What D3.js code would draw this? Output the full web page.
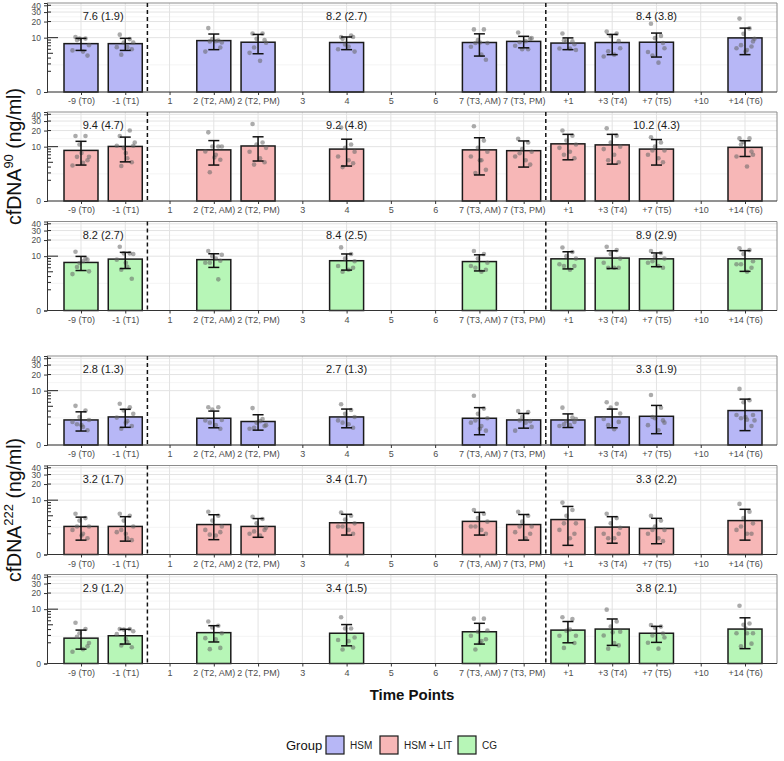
<!DOCTYPE html>
<html>
<head>
<meta charset="utf-8">
<script src="https://cdn.jsdelivr.net/npm/d3@7"></script>
<style>
  body { margin: 0; background: #fff; }
  svg { font-family: "Liberation Sans", Arial, sans-serif; }
</style>
</head>
<body>
<svg width="784" height="761"></svg>
<script>
// time points on the x axis
var timePoints = ["-9 (T0)", "-1 (T1)", "1", "2 (T2, AM)", "2 (T2, PM)", "3", "4", "5", "6",
  "7 (T3, AM)", "7 (T3, PM)", "+1", "+3 (T4)", "+7 (T5)", "+10", "+14 (T6)"];

var groups = ["HSM", "HSM + LIT", "CG"];
var groupFill = ["#b7b7f6", "#f7b7b7", "#b7f6b7"];

var yBreaks = [0, 10, 20, 30, 40];
var logTicks = [2, 3, 4, 5, 6, 7, 8, 9, 10, 20, 30, 40];

// cfDNA90
var hsm90Mean = [7.7, 7.7, null, 8.8, 8.2, null, 8.1, null, null, 8.1, 8.5, 7.9, 8.1, 8.2, null, 9.9];
var hsm90Sd   = [2.0, 2.0, null, 2.9, 3.3, null, 2.2, null, null, 3.7, 2.1, 2.0, 3.4, 4.0, null, 5.2];
var hsm90Pts = [
  [10.3, 9.6, 9.6, 7.2, 5.7, 5.4, 4.5, 9.0],
  [11.4, 9.4, 8.1, 8.1, 6.6, 6.6, 6.0, 4.7],
  [], [15.1, 8.8, 9.4, 8.1, 5.4, 8.6, 6.5, 8.5],
  [12.0, 12.0, 9.5, 8.0, 5.1, 3.5, 9.0, 6.5],
  [], [10.3, 11.0, 7.4, 5.4, 6.0, 6.8, 10.3, 9.5], [], [],
  [14.3, 14.3, 9.0, 7.9, 6.7, 4.7, 3.7, 7.9, 8.1],
  [12.5, 6.0, 6.0, 9.8, 7.0, 8.6, 9.5, 8.2],
  [12.0, 8.5, 8.5, 5.8, 6.2, 6.2, 7.5, 8.8],
  [13.0, 12.0, 10.8, 6.3, 4.3, 4.7, 8.6, 5.5],
  [18.2, 10.8, 9.8, 6.3, 5.3, 3.2, 7.9, 4.5],
  [], [22.7, 14.9, 11.8, 8.5, 6.3, 5.8, 6.8, 7.2, 5.4, 9.5]
];
var lit90Mean = [8.5, 10.1, null, 8.7, 10.3, null, 9.0, null, null, 8.7, 8.4, 11.3, 10.8, 9.0, null, 9.7];
var lit90Sd   = [4.1, 5.0, null, 4.3, 5.0, null, 4.8, null, null, 6.0, 4.4, 5.7, 6.2, 4.6, null, 3.2];
var lit90Pts = [
  [15.8, 15.8, 11.0, 6.4, 4.3, 4.9, 5.5, 6.4, 7.6],
  [15.8, 20.0, 9.4, 10.4, 10.4, 6.0, 5.0, 4.2, 7.6, 12.0],
  [], [18.5, 10.1, 10.1, 10.1, 8.1, 7.0, 5.6, 3.1, 6.2],
  [26.5, 12.0, 11.0, 9.5, 8.0, 6.0, 5.0, 4.5],
  [], [22.7, 11.0, 9.5, 8.0, 6.5, 5.5, 4.8, 4.0], [], [],
  [24.0, 13.0, 9.5, 8.0, 6.5, 5.5, 3.5, 3.0, 5.5],
  [14.0, 12.0, 9.0, 8.0, 6.5, 5.5, 4.5, 7.5],
  [20.0, 16.0, 13.0, 11.0, 9.5, 8.0, 6.0, 7.0],
  [22.0, 16.0, 12.0, 10.0, 9.0, 7.0, 5.0, 5.5],
  [15.0, 12.0, 10.0, 8.5, 7.0, 6.0, 5.0, 8.5],
  [], [14.3, 14.3, 12.3, 7.0, 6.5, 4.1, 8.1, 11.0]
];
var cg90Mean = [7.6, 8.8, null, 8.6, null, null, 8.2, null, null, 7.9, null, 8.9, 9.2, 8.9, null, 8.9];
var cg90Sd   = [2.3, 3.0, null, 2.5, null, null, 2.8, null, null, 2.7, null, 3.2, 3.4, 2.6, null, 3.8];
var cg90Pts = [
  [12.1, 9.0, 7.4, 5.1, 4.5, 8.0, 8.6, 6.2],
  [15.0, 11.3, 11.3, 11.0, 8.6, 6.3, 3.6, 5.5, 7.5],
  [], [12.5, 3.5, 10.0, 10.6, 7.5, 9.0, 8.2, 7.5],
  [], [], [14.6, 11.0, 9.0, 8.0, 6.5, 5.5, 6.0, 5.0], [], [],
  [12.5, 11.0, 9.0, 7.5, 6.5, 5.0, 5.5, 6.0],
  [], [14.5, 12.0, 10.0, 9.0, 7.0, 5.5, 6.5, 6.5],
  [15.0, 13.0, 11.0, 9.0, 7.5, 6.0, 6.0, 6.0],
  [12.5, 11.5, 10.0, 9.0, 7.5, 6.5, 6.0, 8.0],
  [], [14.0, 13.0, 11.0, 8.0, 7.0, 5.0, 6.0, 7.0]
];

// cfDNA222
var hsm222Mean = [2.56, 3.0, null, 2.8, 2.35, null, 3.0, null, null, 2.8, 2.56, 2.56, 3.0, 3.1, null, 4.1];
var hsm222Sd   = [1.3, 1.35, null, 1.2, 1.0, null, 1.4, null, null, 1.9, 1.0, 0.93, 1.4, 2.1, null, 2.8];
var hsm222Pts = [
  [5.1, 4.1, 3.0, 2.56, 2.3, 1.7, 1.34, 2.0, 1.9],
  [5.6, 4.8, 4.1, 3.5, 2.9, 2.4, 1.8, 1.5, 2.2],
  [], [4.8, 4.8, 4.3, 2.56, 2.5, 1.9, 1.5, 2.2],
  [4.6, 2.7, 2.2, 1.9, 1.5, 2.4, 1.8, 1.6],
  [], [5.5, 4.2, 3.5, 3.0, 2.5, 2.0, 1.6, 2.2], [], [],
  [8.0, 4.5, 3.5, 2.8, 2.2, 1.8, 1.3, 2.5, 1.5],
  [4.0, 3.8, 3.0, 1.7, 1.3, 2.2, 2.4, 2.5],
  [4.7, 2.9, 2.4, 2.7, 1.8, 1.9, 2.3, 2.0],
  [6.0, 5.6, 4.7, 3.55, 2.7, 1.45, 2.3, 1.9],
  [8.3, 4.7, 2.8, 2.2, 1.9, 1.34, 2.5, 3.0],
  [], [10.8, 6.6, 6.0, 3.3, 3.3, 2.6, 1.8, 2.8, 3.0, 2.5]
];
var lit222Mean = [3.0, 3.0, null, 3.3, 3.0, null, 3.6, null, null, 3.85, 3.3, 4.2, 2.9, 2.7, null, 4.0];
var lit222Sd   = [1.7, 1.8, null, 1.95, 1.4, null, 1.75, null, null, 2.0, 2.0, 3.4, 1.9, 1.75, null, 2.7];
var lit222Pts = [
  [5.5, 4.5, 4.0, 3.0, 2.5, 2.0, 1.5, 3.0, 1.8],
  [5.5, 5.0, 4.0, 3.0, 2.2, 1.5, 1.3, 2.5, 2.0],
  [], [6.0, 5.0, 4.0, 3.0, 2.5, 1.8, 2.2, 1.9],
  [4.8, 4.3, 3.5, 2.8, 2.0, 1.8, 2.5, 2.3],
  [], [5.8, 5.0, 4.2, 3.5, 3.0, 2.5, 2.0, 3.0], [], [],
  [6.5, 5.5, 4.5, 3.8, 3.0, 2.5, 2.0, 3.0],
  [6.0, 5.0, 3.8, 3.0, 2.2, 1.5, 2.0, 3.0],
  [9.0, 6.5, 5.0, 3.5, 2.5, 1.5, 2.0, 3.5],
  [5.5, 4.5, 3.5, 2.8, 2.0, 1.5, 2.0, 1.5],
  [5.0, 4.0, 3.0, 2.5, 2.0, 1.5, 1.2, 2.5],
  [], [8.5, 6.0, 4.5, 3.5, 2.5, 2.0, 2.0, 3.0]
];
var cg222Mean = [2.6, 2.95, null, 3.45, null, null, 3.35, null, null, 3.6, null, 3.9, 4.1, 3.35, null, 4.1];
var cg222Sd   = [1.3, 1.1, null, 1.35, null, null, 1.7, null, null, 1.75, null, 1.9, 2.4, 1.3, null, 2.75];
var cg222Pts = [
  [5.5, 4.1, 3.35, 1.97, 1.04, 1.3, 1.6, 2.8],
  [4.1, 4.1, 4.0, 3.7, 3.2, 2.1, 1.5, 1.7, 2.5],
  [], [5.8, 4.8, 4.4, 3.35, 2.6, 2.45, 1.43, 1.3],
  [], [], [7.0, 4.2, 4.2, 2.7, 2.35, 2.2, 1.47, 1.27], [], [],
  [6.6, 6.6, 3.6, 3.8, 2.95, 2.2, 2.45, 1.27, 2.0],
  [], [7.0, 6.5, 3.8, 2.95, 2.95, 4.0, 1.97, 1.43],
  [9.8, 5.8, 4.6, 3.6, 3.0, 1.97, 1.7, 1.35, 3.5],
  [4.95, 4.6, 4.35, 2.7, 2.0, 1.35, 3.3, 3.0],
  [], [11.6, 5.3, 5.0, 3.35, 3.35, 3.35, 1.9, 1.6, 4.2]
];

// phase summaries, mean (sd)
var phaseText = [
  ["7.6 (1.9)", "8.2 (2.7)", "8.4 (3.8)"],
  ["9.4 (4.7)", "9.2 (4.8)", "10.2 (4.3)"],
  ["8.2 (2.7)", "8.4 (2.5)", "8.9 (2.9)"],
  ["2.8 (1.3)", "2.7 (1.3)", "3.3 (1.9)"],
  ["3.2 (1.7)", "3.4 (1.7)", "3.3 (2.2)"],
  ["2.9 (1.2)", "3.4 (1.5)", "3.8 (2.1)"]
];

var panels = [
  {g: 0, mean: hsm90Mean, sd: hsm90Sd, pts: hsm90Pts},
  {g: 1, mean: lit90Mean, sd: lit90Sd, pts: lit90Pts},
  {g: 2, mean: cg90Mean, sd: cg90Sd, pts: cg90Pts},
  {g: 0, mean: hsm222Mean, sd: hsm222Sd, pts: hsm222Pts},
  {g: 1, mean: lit222Mean, sd: lit222Sd, pts: lit222Pts},
  {g: 2, mean: cg222Mean, sd: cg222Sd, pts: cg222Pts}
];

var svg = d3.select("svg");
var left = 47, right = 777, ph = 89;
var panelTop = [3, 112, 221.5, 356, 465.5, 574.5];
var jitter = [-0.55, 0.45, -0.15, 0.8, -0.85, 0.2, 0.65, -0.4, 0.05, 0.95];

var x = d3.scalePoint().domain(timePoints).range([81, 745]);
// pseudo-log (sigma 1, base 10)
var yT = d3.scaleLinear().domain([0, 1.645]).range([ph, 0]);
function tr(v) { return Math.asinh(v / 2) / Math.LN10; }
function y(v) { return yT(tr(v)); }

var minor = [];
for (var i = 0; i < yBreaks.length - 1; i++) minor.push((tr(yBreaks[i]) + tr(yBreaks[i + 1])) / 2);

var dashX = [(x("-1 (T1)") + x("1")) / 2, (x("7 (T3, PM)") + x("+1")) / 2];
var labelX = [(x("-9 (T0)") + x("-1 (T1)")) / 2, x("4"), x("+7 (T5)")];
var bw = 34;

panels.forEach(function(p, k) {
  var g = svg.append("g").attr("transform", "translate(0," + panelTop[k] + ")");

  g.selectAll(".minor").data(minor).enter().append("line")
      .attr("x1", left).attr("x2", right)
      .attr("y1", function(d) { return yT(d); }).attr("y2", function(d) { return yT(d); })
      .attr("stroke", "#f0f0f0").attr("stroke-width", 0.7);
  g.selectAll(".major").data(yBreaks).enter().append("line")
      .attr("x1", left).attr("x2", right)
      .attr("y1", function(d) { return y(d); }).attr("y2", function(d) { return y(d); })
      .attr("stroke", "#e3e3e3").attr("stroke-width", 1);
  g.selectAll(".vgrid").data(timePoints).enter().append("line")
      .attr("x1", function(d) { return x(d); }).attr("x2", function(d) { return x(d); })
      .attr("y1", 0).attr("y2", ph)
      .attr("stroke", "#e3e3e3").attr("stroke-width", 1);

  // border top/right
  g.append("path").attr("d", "M" + left + ",0H" + right + "V" + ph)
      .attr("fill", "none").attr("stroke", "#8c8c8c").attr("stroke-width", 1);

  var rows = timePoints.map(function(t, i) {
    return {t: t, m: p.mean[i], s: p.sd[i], pts: p.pts[i]};
  }).filter(function(d) { return d.m != null; });

  g.selectAll(".bar").data(rows).enter().append("rect")
      .attr("x", function(d) { return x(d.t) - bw / 2; })
      .attr("y", function(d) { return y(d.m); })
      .attr("width", bw)
      .attr("height", function(d) { return y(0) - y(d.m); })
      .attr("fill", groupFill[p.g]).attr("stroke", "#1a1a1a").attr("stroke-width", 1.5);

  rows.forEach(function(d) {
    g.selectAll(null).data(d.pts).enter().append("circle")
        .attr("cx", function(v, j) { return x(d.t) + jitter[j % jitter.length] * 10; })
        .attr("cy", function(v) { return y(v); })
        .attr("r", 2.3)
        .attr("fill", "#666").attr("fill-opacity", 0.55);
  });

  var eb = g.selectAll(".eb").data(rows).enter().append("g");
  eb.append("line")
      .attr("x1", function(d) { return x(d.t); }).attr("x2", function(d) { return x(d.t); })
      .attr("y1", function(d) { return y(d.m + d.s); })
      .attr("y2", function(d) { return y(Math.max(d.m - d.s, 0)); });
  eb.append("line")
      .attr("x1", function(d) { return x(d.t) - 5.5; }).attr("x2", function(d) { return x(d.t) + 5.5; })
      .attr("y1", function(d) { return y(d.m + d.s); }).attr("y2", function(d) { return y(d.m + d.s); });
  eb.append("line")
      .attr("x1", function(d) { return x(d.t) - 5.5; }).attr("x2", function(d) { return x(d.t) + 5.5; })
      .attr("y1", function(d) { return y(Math.max(d.m - d.s, 0)); })
      .attr("y2", function(d) { return y(Math.max(d.m - d.s, 0)); });
  eb.selectAll("line").attr("stroke", "#111").attr("stroke-width", 1.5);

  g.selectAll(".dash").data(dashX).enter().append("line")
      .attr("x1", function(d) { return d; }).attr("x2", function(d) { return d; })
      .attr("y1", 0).attr("y2", ph)
      .attr("stroke", "#111").attr("stroke-width", 1.5).attr("stroke-dasharray", "4,3");

  g.selectAll(".ptxt").data(phaseText[k]).enter().append("text")
      .attr("x", function(d, i) { return labelX[i]; })
      .attr("y", 17)
      .attr("text-anchor", "middle")
      .attr("font-size", 11).attr("fill", "#1a1a1a")
      .text(function(d) { return d; });

  // log ticks inside the left axis
  g.selectAll(".lt").data(logTicks).enter().append("line")
      .attr("x1", left)
      .attr("x2", function(d) { return left + (d === 10 ? 11 : d === 5 ? 6 : 4); })
      .attr("y1", function(d) { return y(d); }).attr("y2", function(d) { return y(d); })
      .attr("stroke", "#222").attr("stroke-width", 1);

  var ya = g.append("g").attr("transform", "translate(" + left + ",0)")
      .call(d3.axisLeft(yT).tickValues(yBreaks.map(tr)).tickFormat(function(d, i) { return yBreaks[i]; })
        .tickSizeOuter(0).tickSize(3).tickPadding(3));
  ya.select(".domain").attr("stroke", "#333");
  ya.selectAll(".tick line").attr("stroke", "#333");
  ya.selectAll("text").attr("font-size", 8.5).attr("fill", "#4d4d4d").attr("font-family", null);

  var xa = g.append("g").attr("transform", "translate(0," + ph + ")")
      .call(d3.axisBottom(x).tickSize(3).tickPadding(3).tickSizeOuter(0));
  xa.select(".domain").attr("d", "M" + left + ",0H" + right).attr("stroke", "#333");
  xa.selectAll(".tick line").attr("stroke", "#333");
  xa.selectAll("text").attr("font-size", 9).attr("fill", "#4d4d4d").attr("font-family", null);
});

// y titles
function yTitle(cy, sup) {
  var t = svg.append("text")
      .attr("transform", "translate(21," + cy + ") rotate(-90)")
      .attr("text-anchor", "middle")
      .attr("font-size", 19.5).attr("fill", "#111");
  t.append("tspan").text("cfDNA");
  t.append("tspan").attr("font-size", 13).attr("dy", -8).text(sup);
  t.append("tspan").attr("dy", 8).text(" (ng/ml)");
}
yTitle(panelTop[1] + ph / 2, "90");
yTitle(panelTop[4] + ph / 2, "222");

svg.append("text")
    .attr("x", (left + right) / 2).attr("y", 700)
    .attr("text-anchor", "middle")
    .attr("font-size", 15).attr("font-weight", "bold").attr("fill", "#111")
    .text("Time Points");

// legend
var legX = [326, 380, 458];
svg.append("text").attr("x", 286).attr("y", 750)
    .attr("font-size", 13).attr("fill", "#111").text("Group");
var leg = svg.selectAll(".leg").data(groups).enter().append("g")
    .attr("transform", function(d, i) { return "translate(" + legX[i] + ",736)"; });
leg.append("rect").attr("width", 18).attr("height", 18)
    .attr("fill", function(d, i) { return groupFill[i]; })
    .attr("stroke", "#1a1a1a").attr("stroke-width", 1.2);
leg.append("text").attr("x", 24).attr("y", 13)
    .attr("font-size", 10).attr("fill", "#222")
    .text(function(d) { return d; });
</script>
</body>
</html>
